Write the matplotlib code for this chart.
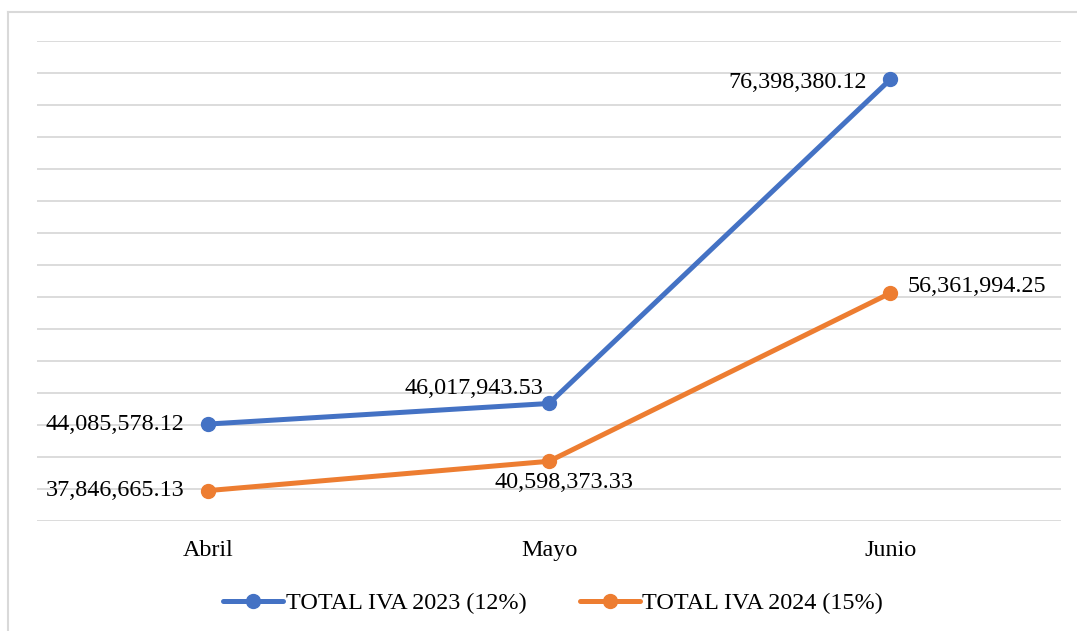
import matplotlib.pyplot as plt
from matplotlib.lines import Line2D

# dane
meses = ['Abril', 'Mayo', 'Junio']
iva_2023 = [44085578.12, 46017943.53, 76398380.12]
iva_2024 = [37846665.13, 40598373.33, 56361994.25]
serie_2023 = 'TOTAL IVA 2023 (12%)'
serie_2024 = 'TOTAL IVA 2024 (15%)'

AZUL = '#4472C4'
NARANJA = '#ED7D31'

plt.rcParams['font.family'] = ['Liberation Serif', 'DejaVu Serif']
FS = 17.4

fig = plt.figure(figsize=(10.77, 6.31), dpi=100)
ax = fig.add_axes([37 / 1077, 110 / 631, 1024 / 1077, 480 / 631])

x = list(range(len(meses)))
ax.plot(x, iva_2023, color=AZUL, lw=3.6, marker='o', ms=10, label=serie_2023,
        solid_capstyle='round', zorder=3)
ax.plot(x, iva_2024, color=NARANJA, lw=3.6, marker='o', ms=10, label=serie_2024,
        solid_capstyle='round', zorder=3)

ax.set_xlim(-0.5, 2.5)
ax.set_ylim(35e6, 80e6)
ax.set_yticks([35e6 + 3e6 * i for i in range(16)])
ax.set_yticklabels([])
ax.set_xticks(x)
ax.set_xticklabels(meses, fontsize=FS)
ax.tick_params(axis='both', length=0)
ax.tick_params(axis='x', pad=14)
ax.grid(axis='y', color='#D9D9D9', lw=1.3)
ax.set_axisbelow(True)
for s in ax.spines.values():
    s.set_visible(False)

# etiquetas de datos (desplazamiento en pixeles)
off_2023 = [(-23, 0, 'right', 'center'), (-6, 15, 'right', 'center'), (-23, -3, 'right', 'center')]
off_2024 = [(-23, 0, 'right', 'center'), (15, -21, 'center', 'center'), (17, 7, 'left', 'center')]
for vals, offs in [(iva_2023, off_2023), (iva_2024, off_2024)]:
    for xi, v, (dx, dy, ha, va) in zip(x, vals, offs):
        ax.annotate(f'{v:,.2f}', (xi, v), xytext=(dx, dy), textcoords='offset pixels',
                    ha=ha, va=va, fontsize=FS, color='black')

ax.legend(loc='center', bbox_to_anchor=(553 / 1077, 28 / 631), bbox_transform=fig.transFigure,
          ncol=2, frameon=False, fontsize=FS, handlelength=2.5, handletextpad=0.1,
          columnspacing=2.2)

# borde exterior
fig.add_artist(Line2D([7.5 / 1077, 7.5 / 1077], [0, 1 - 11.5 / 631], transform=fig.transFigure,
                      color='#D9D9D9', lw=1.5))
fig.add_artist(Line2D([7.5 / 1077, 1], [1 - 11.5 / 631, 1 - 11.5 / 631], transform=fig.transFigure,
                      color='#D9D9D9', lw=1.5))

fig.savefig('out.png', dpi=100)
